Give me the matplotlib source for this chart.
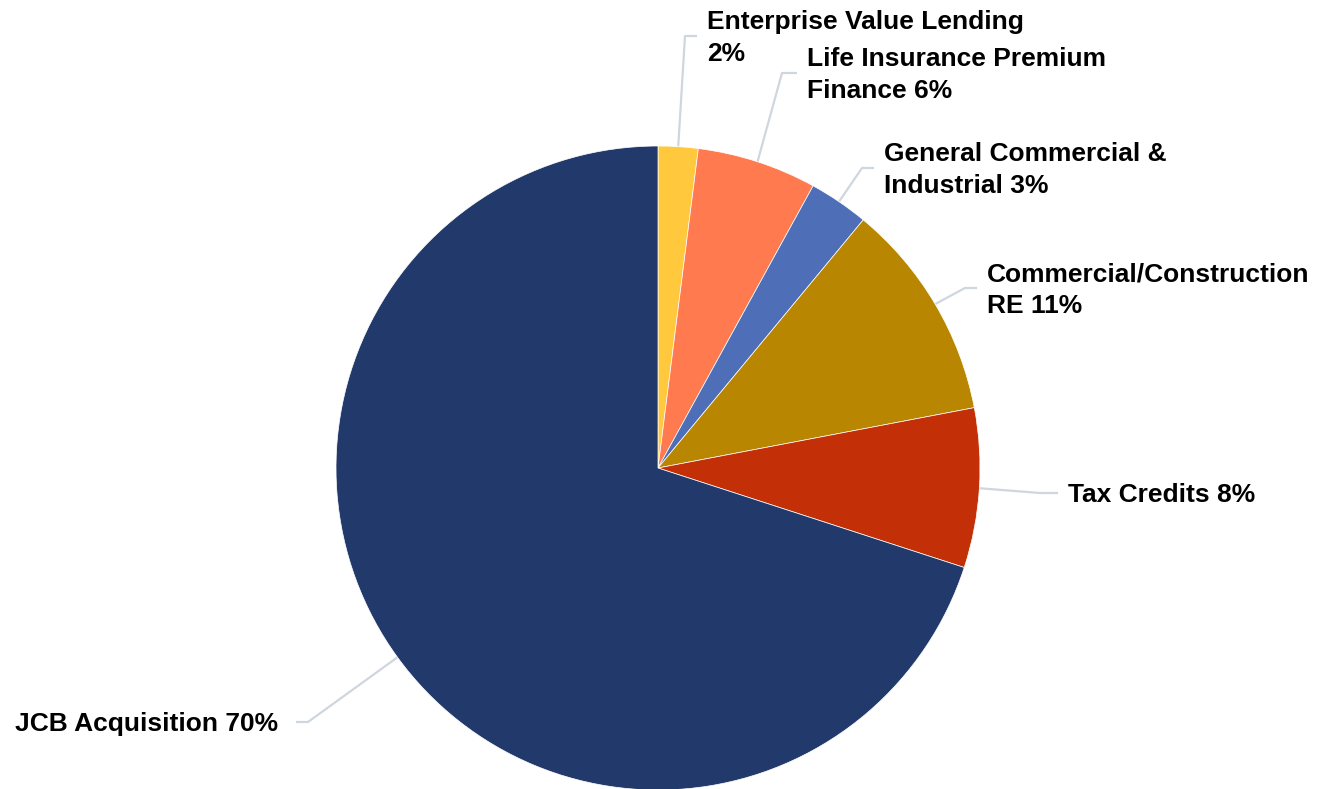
import numpy as np
import matplotlib.pyplot as plt

# loan portfolio mix, clockwise from 12 o'clock
labels = ['Enterprise Value Lending\n2%', 'Life Insurance Premium\nFinance 6%',
          'General Commercial &\nIndustrial 3%', 'Commercial/Construction\nRE 11%',
          'Tax Credits 8%', 'JCB Acquisition 70%']
shares = [2, 6, 3, 11, 8, 70]
colors = ['#FFC83D', '#FF7B4F', '#4E6FB8', '#B88600', '#C33007', '#223A6B']

W, H = 1317, 789
fig = plt.figure(figsize=(W / 100, H / 100), dpi=100, facecolor='w')
ax = fig.add_axes([0, 0, 1, 1])

cx, cy, r = 658, H - 468, 322
wedges, _ = ax.pie(shares, colors=colors, startangle=90, counterclock=False,
                   center=(cx, cy), radius=r, frame=True,
                   wedgeprops=dict(edgecolor='white', linewidth=0.5))
ax.set_xlim(0, W)
ax.set_ylim(0, H)
ax.set_aspect('equal')
ax.axis('off')

# elbow of each leader line (pixel coords, y from top) and which side the text goes
elbows = [(685, 36), (782, 73), (862, 168), (965, 288), (1040, 493), (308, 722)]
side = [1, 1, 1, 1, 1, -1]
seg = [12, 15, 12, 12, 18, 12]
line_h = 31.5

line_col = '#D0D6DE'
for w, lab, (ex, ey), s, L in zip(wedges, labels, elbows, side, seg):
    ang = np.deg2rad((w.theta1 + w.theta2) / 2)
    x0 = cx + r * np.cos(ang)
    y0 = cy + r * np.sin(ang)
    ey = H - ey
    ax.plot([x0, ex, ex + s * L], [y0, ey, ey], color=line_col, lw=1.6,
            solid_capstyle='butt', zorder=0)
    rows = lab.split('\n')
    tx = ex + s * L + (10 if s > 0 else -18)
    for i, row in enumerate(rows):
        ty = ey - 2 + ((len(rows) - 1) / 2 - i) * line_h
        ax.text(tx, ty, row, ha='left' if s > 0 else 'right',
                va='center', fontsize=19, fontweight='bold',
                family=['Liberation Sans', 'DejaVu Sans'], color='black')

fig.savefig('out.png', dpi=100, facecolor='w')
